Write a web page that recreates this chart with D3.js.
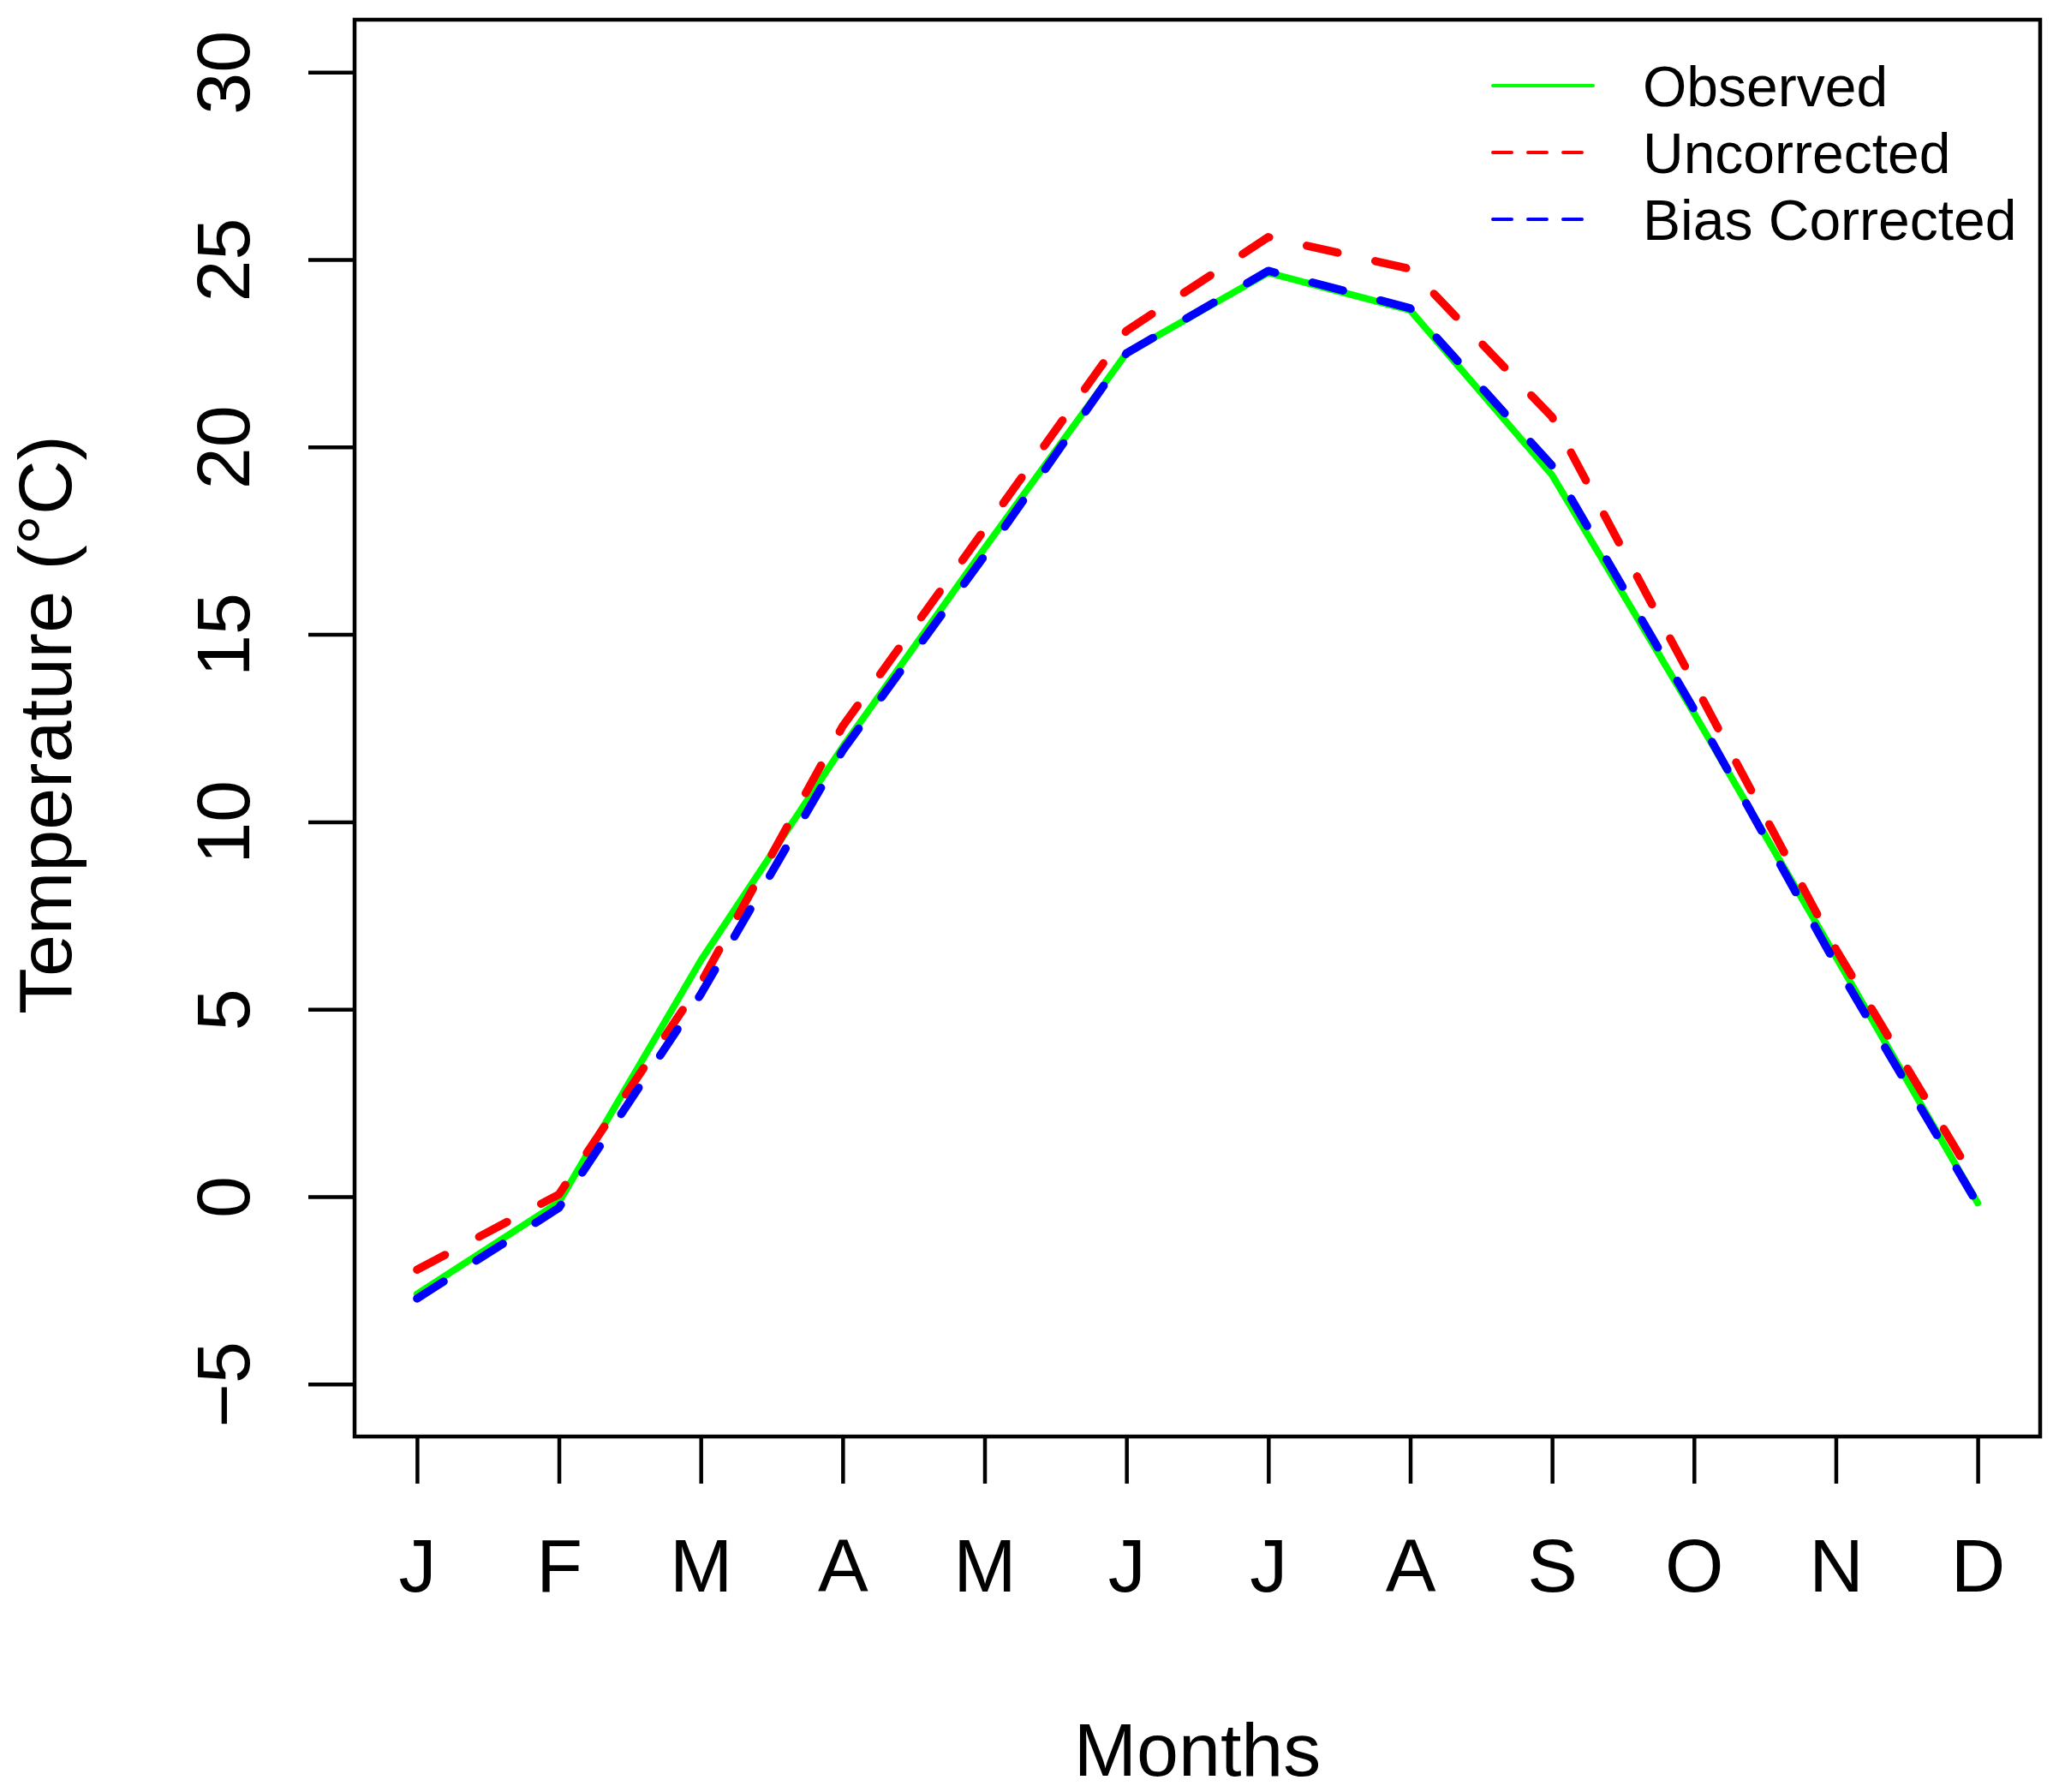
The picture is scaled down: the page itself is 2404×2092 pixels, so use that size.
<!DOCTYPE html>
<html>
<head>
<meta charset="utf-8">
<script src="https://cdn.jsdelivr.net/npm/d3@7"></script>
<style>
    body { margin: 0; background: #fff; }
    text { font-family: "Liberation Sans", Arial, sans-serif; fill: #000; }
</style>
</head>
<body>
<svg id="chart"></svg>
<script>
// // data
var months = ["J", "F", "M", "A", "M", "J", "J", "A", "S", "O", "N", "D"]
var observed    = [-2.6, -0.15, 6.3, 12.0, 17.3, 22.5, 24.65, 23.65, 19.25, 12.9, 6.4, -0.17]
var uncorrected = [-1.95, 0.06, 5.7, 12.55, 17.8, 23.1, 25.6, 24.75, 20.8, 13.7, 6.6, 0.3]
var biasCorr    = [-2.72, -0.3, 5.4, 11.9, 17.1, 22.5, 24.7, 23.7, 19.5, 13.0, 6.2, -0.2]
var yTicks = [-5, 0, 5, 10, 15, 20, 25, 30]
var legendLabels = ["Observed", "Uncorrected", "Bias Corrected"]

// // constants
const width = 2404;
const height = 2092;
const margin = {
    left: 414,
    right: 22,
    top: 23,
    bottom: 415,
};
const fs = 88;

var svg = d3.select('svg#chart').attr('width', width).attr('height', height)

// R style axis limits: data range padded by 4%
var x = d3.scaleLinear()
    .domain([1 - 0.44, 12 + 0.44])
    .range([margin.left, width - margin.right])

var y = d3.scaleLinear()
    .domain([-5 - 1.4, 30 + 1.4])
    .range([height - margin.bottom, margin.top])

var series = [
    {name: legendLabels[0], values: observed, color: "#00ff00", width: 8, dash: null},
    {name: legendLabels[1], values: uncorrected, color: "#ff0000", width: 9.5, dash: "37,45"},
    {name: legendLabels[2], values: biasCorr, color: "#0000ff", width: 9.5, dash: "37,45"},
]

var line = d3.line()
    .x(function(d, i) { return x(i + 1) })
    .y(function(d) { return y(d) })

svg.append("g")
    .selectAll("path")
    .data(series)
    .enter().append("path")
    .attr("d", d => line(d.values))
    .attr("fill", "none")
    .attr("stroke", d => d.color)
    .attr("stroke-width", d => d.width)
    .attr("stroke-dasharray", d => d.dash)
    .attr("stroke-linecap", "round")
    .attr("stroke-linejoin", "round")

// box
svg.append("rect")
    .attr("x", margin.left)
    .attr("y", margin.top)
    .attr("width", width - margin.right - margin.left)
    .attr("height", height - margin.bottom - margin.top)
    .attr("fill", "none")
    .attr("stroke", "#000")
    .attr("stroke-width", 4.5)

// x axis
var xAxis = svg.append("g")
    .attr("transform", "translate(0," + (height - margin.bottom) + ")")
    .call(d3.axisBottom(x)
        .tickValues(d3.range(1, 13))
        .tickFormat(i => months[i - 1])
        .tickSize(55)
        .tickPadding(126))
xAxis.select(".domain").remove()
xAxis.selectAll("line").attr("stroke", "#000").attr("stroke-width", 4.5)
xAxis.selectAll("text")
    .attr("dy", null)
    .style("font-size", fs + "px")
    .style("font-family", "Liberation Sans, Arial, sans-serif")
    .attr("fill", "#000")

// y axis, labels turned like R's default
var yAxis = svg.append("g")
    .attr("transform", "translate(" + margin.left + ",0)")
    .call(d3.axisLeft(y).tickValues(yTicks).tickSize(54))
yAxis.select(".domain").remove()
yAxis.selectAll("line").attr("stroke", "#000").attr("stroke-width", 4.5)
yAxis.selectAll("text")
    .attr("x", 0)
    .attr("y", -123)
    .attr("dy", null)
    .attr("transform", "rotate(-90)")
    .attr("text-anchor", "middle")
    .style("font-size", fs + "px")
    .style("font-family", "Liberation Sans, Arial, sans-serif")
    .attr("fill", "#000")

svg.append("text")
    .attr("class", "x-label")
    .attr("text-anchor", "middle")
    .attr("x", (x.range()[0] + x.range()[1]) / 2)
    .attr("y", 2073)
    .style("font-size", fs + "px")
    .text("Months")

svg.append("text")
    .attr("class", "y-label")
    .attr("text-anchor", "middle")
    .attr("transform", "translate(83," + ((y.range()[0] + y.range()[1]) / 2 - 4) + ") rotate(-90)")
    .style("font-size", fs + "px")
    .text("Temperature (°C)")

// legend, no box
var legendRows = [100, 178, 256]
var legend = svg.append("g")
    .selectAll("g")
    .data(series)
    .enter().append("g")
    .attr("transform", (d, i) => "translate(0," + legendRows[i] + ")")

legend.append("line")
    .attr("x1", 1743)
    .attr("x2", d => d.dash ? 1849 : 1860)
    .attr("y1", 0)
    .attr("y2", 0)
    .attr("stroke", d => d.color)
    .attr("stroke-width", 4)
    .attr("stroke-linecap", "round")
    .attr("stroke-dasharray", d => d.dash ? "22,19" : null)

legend.append("text")
    .attr("x", 1918)
    .attr("y", 0.36 * 66)
    .style("font-size", "66px")
    .text(d => d.name)
</script>
</body>
</html>
